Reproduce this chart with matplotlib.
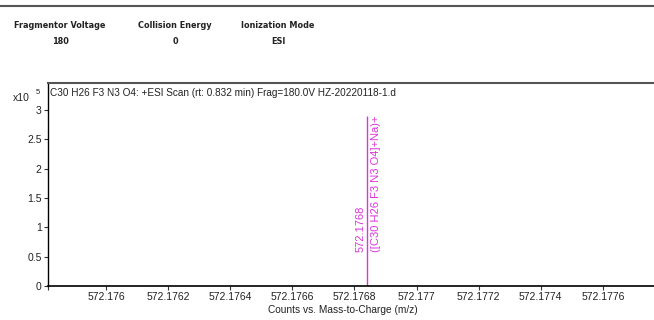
import matplotlib
matplotlib.use("Agg")
import matplotlib.pyplot as plt
from matplotlib.lines import Line2D

# Datos del espectro
header_names = ["Fragmentor Voltage", "Collision Energy", "Ionization Mode"]
header_values = ["180", "0", "ESI"]

peak_mz = [572.17684]
peak_counts = [2.90]  # x10^5
peak_labels = ["572.1768"]
peak_formulas = ["([C30 H26 F3 N3 O4]+Na)+"]

x_ticks = [572.176, 572.1762, 572.1764, 572.1766, 572.1768, 572.177, 572.1772, 572.1774, 572.1776]
x_tick_labels = ["572.176", "572.1762", "572.1764", "572.1766", "572.1768", "572.177", "572.1772", "572.1774", "572.1776"]
y_ticks = [0, 0.5, 1, 1.5, 2, 2.5, 3]
y_tick_labels = ["0", "0.5", "1", "1.5", "2", "2.5", "3"]

scan_title = "C30 H26 F3 N3 O4: +ESI Scan (rt: 0.832 min) Frag=180.0V HZ-20220118-1.d"
x_label = "Counts vs. Mass-to-Charge (m/z)"

magenta = "#d935d9"
W, H = 654, 320

plt.rcParams['font.family'] = ['Liberation Sans', 'DejaVu Sans']
fig = plt.figure(figsize=(W / 100, H / 100), dpi=100)

# Linea superior y cabecera
fig.add_artist(Line2D([0, 1], [1 - 6 / H, 1 - 6 / H], transform=fig.transFigure, color="#555555", lw=1.5))
head_x = [60, 175, 278]
for hx, name, val in zip(head_x, header_names, header_values):
    fig.text(hx / W, 1 - 25 / H, name, ha="center", va="center", fontsize=5.9,
             fontweight="bold", family="DejaVu Sans", color="#222222")
    fig.text(hx / W, 1 - 42 / H, val, ha="center", va="center", fontsize=5.9,
             fontweight="bold", family="DejaVu Sans", color="#222222")

ax = fig.add_axes([48 / W, 1 - 286 / H, 1 - 48 / W, (286 - 83) / H])
ax.vlines(peak_mz, 0, peak_counts, color=magenta, lw=1.0)
for mz, c, lab, form in zip(peak_mz, peak_counts, peak_labels, peak_formulas):
    ax.annotate(lab, (mz, 0.58), xytext=(-4.5, 0), textcoords="offset points", rotation=90,
                ha="center", va="bottom", fontsize=8, color=magenta)
    ax.annotate(form, (mz, 0.58), xytext=(6.5, 0), textcoords="offset points", rotation=90,
                ha="center", va="bottom", fontsize=8, color=magenta)

ax.set_xlim(572.175813, 572.177765)
ax.set_ylim(0, 3.46)
ax.set_xticks(x_ticks)
ax.set_xticklabels(x_tick_labels)
ax.set_xticks([572.175813], minor=True)
ax.set_yticks(y_ticks)
ax.set_yticklabels(y_tick_labels)
ax.tick_params(axis="both", which="major", length=3, width=0.8, labelsize=7.5, pad=1.5,
               color="#333333", labelcolor="#222222")
ax.tick_params(axis="x", which="minor", length=3, width=0.8, color="#333333")

ax.spines["right"].set_visible(False)
ax.spines["left"].set_linewidth(1.0)
ax.spines["bottom"].set_linewidth(1.2)
ax.spines["top"].set_color("#555555")
ax.spines["top"].set_linewidth(1.5)

ax.text(0.004, 1 - 5 / 203, scan_title, transform=ax.transAxes, ha="left", va="top", fontsize=7.2,
        color="#222222")
ax.set_xlabel(x_label, fontsize=7.3, color="#222222")
ax.xaxis.set_label_coords((343 - 48) / 606, -19 / 203)

fig.text(13 / W, 1 - 98 / H, "x10", ha="left", va="center", fontsize=7.5, color="#222222")
fig.text(36 / W, 1 - 92 / H, "5", ha="left", va="center", fontsize=5.5, color="#222222")

fig.savefig("out.png", dpi=100)
